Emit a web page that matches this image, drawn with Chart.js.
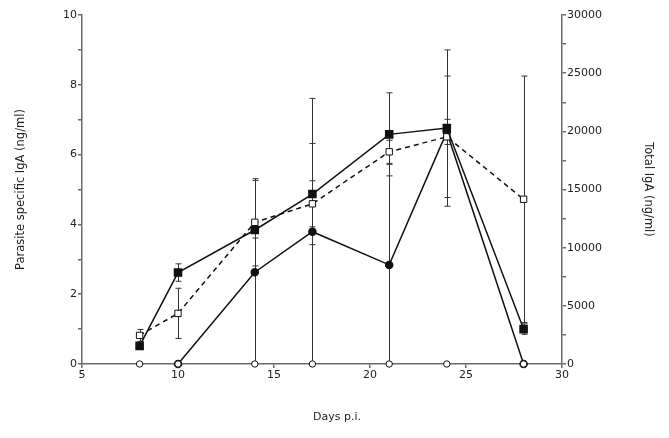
<!DOCTYPE html>
<html>
<head>
<meta charset="utf-8">
<title>IgA</title>
<script src="https://cdn.jsdelivr.net/npm/chart.js@4"></script>
<style>
  html, body { margin: 0; padding: 0; background: #fff; }
  #wrap { width: 669px; height: 438px; }
</style>
</head>
<body>
<div id="wrap"><canvas id="igaChart" width="669" height="438"></canvas></div>
<script>
// days post infection
const days = [8, 10, 14, 17, 21, 24, 28];

// parasite specific IgA (ng/ml), left axis
const filledSquare = [0.52, 2.62, 3.84, 4.87, 6.58, 6.76, 1.0];
const filledSquareErr = [0.05, 0.25, 0.23, 1.45, 1.19, 2.24, 0.15];
const filledCircle = [null, 0, 2.63, 3.79, 2.84, 6.65, 0];
const filledCircleErr = [0, 0, 2.63, 3.82, 2.88, 0.36, 0];
const openCircle = [0, 0, 0, 0, 0, 0, 0];

// total IgA (ng/ml), right axis
const openSquare = [2460, 4350, 12180, 13770, 18240, 19530, 14160];
const openSquareErr = [510, 2160, 3750, 1980, 990, 5220, 10590];

const leftTicks = [0, 2, 4, 6, 8, 10];
const rightTicks = [0, 5000, 10000, 15000, 20000, 25000, 30000];
const xTicks = [5, 10, 15, 20, 25, 30];

function points(vals) {
    return days.map((d, i) => ({ x: d, y: vals[i] }));
}

const AXIS = '#6a6a6a';
const TEXT = '#222';
const FONT = { family: 'DejaVu Sans', size: 11 };

// vertical error bars with caps
const errorBars = {
    id: 'errorBars',
    beforeDatasetsDraw(chart) {
        const ctx = chart.ctx;
        const xs = chart.scales.x;
        ctx.save();
        ctx.strokeStyle = '#333';
        ctx.lineWidth = 1;
        chart.data.datasets.forEach(ds => {
            if (!ds.errors) return;
            const ys = chart.scales[ds.yAxisID];
            ds.data.forEach((p, i) => {
                const e = ds.errors[i];
                if (p.y == null || !e) return;
                const px = Math.round(xs.getPixelForValue(p.x)) + 0.5;
                const top = ys.getPixelForValue(p.y + e);
                const bot = ys.getPixelForValue(Math.max(0, p.y - e));
                ctx.beginPath();
                ctx.moveTo(px, top);
                ctx.lineTo(px, bot);
                ctx.moveTo(px - 3, top);
                ctx.lineTo(px + 3, top);
                if (p.y - e > 0) {
                    ctx.moveTo(px - 3, bot);
                    ctx.lineTo(px + 3, bot);
                }
                ctx.stroke();
            });
        });
        ctx.restore();
    },
    afterDraw(chart) {
        const ctx = chart.ctx;
        ctx.save();
        ctx.fillStyle = TEXT;
        ctx.font = '11px "DejaVu Sans"';
        ctx.textAlign = 'center';
        ctx.textBaseline = 'middle';
        ctx.fillText('Days p.i.', 337, 417);
        ctx.restore();
    }
};

new Chart(document.getElementById('igaChart'), {
    type: 'line',
    data: {
        datasets: [
            {
                label: 'open circles',
                data: points(openCircle),
                yAxisID: 'y',
                showLine: false,
                pointStyle: 'circle',
                pointRadius: 3.2,
                pointBackgroundColor: '#fff',
                pointBorderColor: '#111',
                pointBorderWidth: 1,
                clip: false
            },
            {
                label: 'filled squares',
                data: points(filledSquare),
                errors: filledSquareErr,
                yAxisID: 'y',
                borderColor: '#111',
                borderWidth: 1.5,
                pointStyle: 'rect',
                pointRadius: 5,
                pointBackgroundColor: '#111',
                pointBorderColor: '#111',
                clip: false
            },
            {
                label: 'open squares',
                data: points(openSquare),
                errors: openSquareErr,
                yAxisID: 'y2',
                borderColor: '#111',
                borderWidth: 1.5,
                borderDash: [5, 4],
                pointStyle: 'rect',
                pointRadius: 4.5,
                pointBackgroundColor: '#fff',
                pointBorderColor: '#111',
                pointBorderWidth: 1,
                clip: false
            },
            {
                label: 'filled circles',
                data: points(filledCircle),
                errors: filledCircleErr,
                yAxisID: 'y',
                borderColor: '#111',
                borderWidth: 1.5,
                pointStyle: 'circle',
                pointRadius: 3.5,
                pointBackgroundColor: '#111',
                pointBorderColor: '#111',
                spanGaps: false,
                clip: false
            }
        ]
    },
    options: {
        responsive: false,
        animation: false,
        layout: { padding: { top: 15, left: 0, right: 0, bottom: 0 } },
        plugins: {
            legend: { display: false },
            tooltip: { enabled: false }
        },
        elements: { line: { tension: 0 } },
        scales: {
            x: {
                type: 'linear',
                min: 5,
                max: 30,
                afterFit: s => { s.height = 74; },
                afterBuildTicks: s => { s.ticks = xTicks.map(v => ({ value: v })); },
                ticks: { color: TEXT, font: FONT, padding: 1, autoSkip: false, maxRotation: 0 },
                grid: { drawOnChartArea: false, drawTicks: true, tickLength: 4, color: AXIS, lineWidth: 1.5 },
                border: { display: true, color: AXIS, width: 1.5 }
            },
            y: {
                position: 'left',
                min: 0,
                max: 10,
                afterFit: s => { s.width = 82; },
                ticks: {
                    stepSize: 1,
                    autoSkip: false,
                    color: TEXT,
                    font: FONT,
                    padding: 1,
                    callback: v => leftTicks.includes(v) ? v : ''
                },
                grid: { drawOnChartArea: false, drawTicks: true, tickLength: 4, color: AXIS, lineWidth: 1.5 },
                border: { display: true, color: AXIS, width: 1.5 },
                title: {
                    display: true,
                    text: 'Parasite specific IgA (ng/ml)',
                    color: TEXT,
                    font: { family: 'DejaVu Sans', size: 11.5 },
                    padding: { top: 14, bottom: 0 }
                }
            },
            y2: {
                position: 'right',
                min: 0,
                max: 30000,
                afterFit: s => { s.width = 107; },
                ticks: {
                    stepSize: 2500,
                    autoSkip: false,
                    color: TEXT,
                    font: FONT,
                    padding: 1,
                    callback: v => rightTicks.includes(v) ? v : ''
                },
                grid: { drawOnChartArea: false, drawTicks: true, tickLength: 4, color: AXIS, lineWidth: 1.5 },
                border: { display: true, color: AXIS, width: 1.5 },
                title: {
                    display: true,
                    text: 'Total IgA (ng/ml)',
                    color: TEXT,
                    font: { family: 'DejaVu Sans', size: 11.5 },
                    padding: { top: 14, bottom: 0 }
                }
            }
        }
    },
    plugins: [errorBars]
});
</script>
</body>
</html>
